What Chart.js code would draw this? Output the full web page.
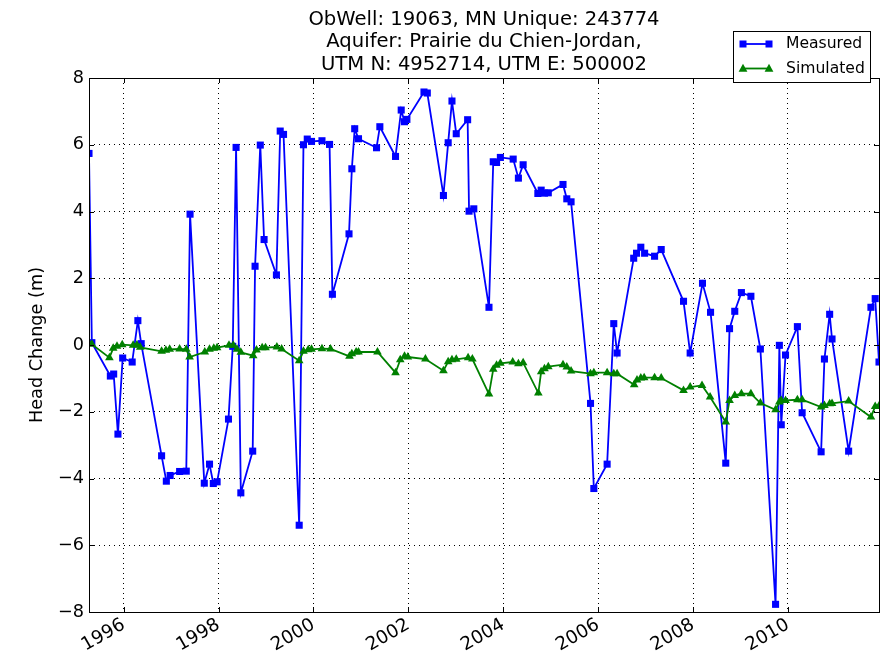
<!DOCTYPE html>
<html>
<head>
<meta charset="utf-8">
<script src="https://cdn.jsdelivr.net/npm/chart.js@4/dist/chart.umd.min.js"></script>
<style>
  html, body { margin: 0; padding: 0; background: #ffffff; overflow: hidden; }
  #wrap { width: 880px; height: 658px; }
</style>
</head>
<body>
<div id="wrap"><canvas id="c" width="880" height="658"></canvas></div>
<script>
// ---- data ----
const titleLines = ["ObWell: 19063, MN Unique: 243774", "Aquifer: Prairie du Chien-Jordan,", "UTM N: 4952714, UTM E: 500002"];
const yAxisLabel = "Head Change (m)";
const seriesNames = ["Measured", "Simulated"];
const xTickYears = [1996, 1998, 2000, 2002, 2004, 2006, 2008, 2010];
const yTickValues = [-8, -6, -4, -2, 0, 2, 4, 6, 8];

const measuredYear = [1995.27, 1995.33, 1995.72, 1995.79, 1995.88, 1995.98, 1996.18, 1996.30, 1996.37, 1996.80, 1996.90, 1996.98, 1997.18, 1997.32, 1997.40, 1997.70, 1997.81, 1997.89, 1997.97, 1998.21, 1998.30, 1998.37, 1998.47, 1998.72, 1998.77, 1998.88, 1998.96, 1999.22, 1999.30, 1999.37, 1999.70, 1999.79, 1999.87, 1999.96, 2000.18, 2000.34, 2000.40, 2000.75, 2000.81, 2000.87, 2000.95, 2001.33, 2001.40, 2001.73, 2001.85, 2001.92, 2001.97, 2002.33, 2002.40, 2002.74, 2002.84, 2002.92, 2003.01, 2003.25, 2003.28, 2003.38, 2003.70, 2003.79, 2003.86, 2003.94, 2004.21, 2004.32, 2004.42, 2004.73, 2004.80, 2004.87, 2004.95, 2005.26, 2005.34, 2005.43, 2005.84, 2005.91, 2006.19, 2006.33, 2006.40, 2006.75, 2006.81, 2006.90, 2006.98, 2007.19, 2007.33, 2007.80, 2007.94, 2008.20, 2008.37, 2008.69, 2008.77, 2008.88, 2009.02, 2009.22, 2009.42, 2009.74, 2009.82, 2009.86, 2009.95, 2010.20, 2010.30, 2010.70, 2010.77, 2010.88, 2010.93, 2011.28, 2011.75, 2011.84, 2011.92];
const measuredHead = [5.74, 0.07, -0.93, -0.87, -2.67, -0.39, -0.51, 0.73, 0.04, -3.32, -4.08, -3.91, -3.79, -3.78, 3.92, -4.14, -3.57, -4.15, -4.10, -2.22, -0.04, 5.92, -4.43, -3.18, 2.36, 5.99, 3.16, 2.10, 6.41, 6.31, -5.40, 6.00, 6.17, 6.10, 6.12, 6.01, 1.52, 3.33, 5.28, 6.48, 6.18, 5.91, 6.54, 5.65, 7.04, 6.69, 6.76, 7.58, 7.55, 4.48, 6.06, 7.31, 6.33, 6.75, 4.01, 4.08, 1.13, 5.49, 5.47, 5.62, 5.57, 5.00, 5.40, 4.54, 4.64, 4.55, 4.56, 4.81, 4.38, 4.29, -1.75, -4.30, -3.57, 0.64, -0.24, 2.60, 2.75, 2.93, 2.75, 2.66, 2.86, 1.31, -0.24, 1.85, 0.98, -3.54, 0.49, 1.01, 1.57, 1.46, -0.12, -7.77, -0.01, -2.39, -0.30, 0.55, -2.03, -3.20, -0.42, 0.92, 0.18, -3.18, 1.13, 1.39, -0.51];

const simulatedYear = [1995.27, 1995.33, 1995.70, 1995.78, 1995.86, 1995.97, 1996.20, 1996.28, 1996.35, 1996.80, 1996.89, 1996.97, 1997.18, 1997.32, 1997.39, 1997.71, 1997.81, 1997.90, 1997.97, 1998.22, 1998.31, 1998.39, 1998.47, 1998.73, 1998.80, 1998.92, 1998.99, 1999.23, 1999.33, 1999.70, 1999.79, 1999.89, 1999.96, 2000.18, 2000.36, 2000.76, 2000.81, 2000.90, 2000.95, 2001.35, 2001.73, 2001.83, 2001.92, 2001.99, 2002.36, 2002.74, 2002.84, 2002.92, 2003.01, 2003.26, 2003.35, 2003.70, 2003.79, 2003.86, 2003.94, 2004.20, 2004.32, 2004.42, 2004.74, 2004.80, 2004.87, 2004.95, 2005.26, 2005.34, 2005.43, 2005.84, 2005.91, 2006.19, 2006.33, 2006.40, 2006.76, 2006.82, 2006.90, 2006.97, 2007.19, 2007.33, 2007.80, 2007.94, 2008.19, 2008.36, 2008.69, 2008.77, 2008.88, 2009.02, 2009.22, 2009.42, 2009.74, 2009.82, 2009.86, 2009.95, 2010.20, 2010.30, 2010.70, 2010.77, 2010.88, 2010.93, 2011.28, 2011.75, 2011.84, 2011.92];
const simulatedHead = [0.05, 0.02, -0.38, -0.10, -0.04, 0.01, -0.01, 0.00, -0.07, -0.19, -0.16, -0.13, -0.12, -0.13, -0.36, -0.21, -0.13, -0.10, -0.08, -0.01, -0.01, -0.13, -0.22, -0.32, -0.15, -0.08, -0.08, -0.06, -0.12, -0.47, -0.19, -0.14, -0.13, -0.11, -0.12, -0.34, -0.26, -0.21, -0.21, -0.21, -0.83, -0.44, -0.34, -0.36, -0.42, -0.77, -0.50, -0.44, -0.43, -0.38, -0.42, -1.47, -0.73, -0.61, -0.55, -0.51, -0.56, -0.53, -1.44, -0.80, -0.71, -0.65, -0.59, -0.66, -0.78, -0.86, -0.83, -0.83, -0.86, -0.86, -1.19, -1.05, -0.99, -0.98, -0.98, -0.99, -1.36, -1.26, -1.21, -1.56, -2.31, -1.66, -1.51, -1.46, -1.46, -1.74, -1.94, -1.71, -1.66, -1.66, -1.64, -1.64, -1.86, -1.81, -1.76, -1.75, -1.68, -2.16, -1.84, -1.83];

// ---- styling ----
const FONT = "'DejaVu Sans', 'Liberation Sans', sans-serif";
const BLUE = "#0000ff";
const GREEN = "#008000";

const toPoints = (xs, ys) => xs.map((x, i) => ({ x: x, y: ys[i] }));
const xMin = measuredYear[0];
const xMax = measuredYear[measuredYear.length - 1];

// plugin: white background, frame, inward tick marks, title, legend
const decor = {
  id: 'decor',
  beforeDraw(chart) {
    const ctx = chart.ctx;
    ctx.save();
    ctx.fillStyle = '#ffffff';
    ctx.fillRect(0, 0, chart.width, chart.height);
    ctx.restore();
  },
  afterDraw(chart) {
    const ctx = chart.ctx;
    const a = chart.chartArea;
    const xs = chart.scales.x, ys = chart.scales.y;
    ctx.save();
    // inward tick marks
    ctx.strokeStyle = '#000000';
    ctx.lineWidth = 1;
    ctx.beginPath();
    xTickYears.forEach(v => {
      const px = Math.round(xs.getPixelForValue(v)) + 0.5;
      ctx.moveTo(px, a.bottom); ctx.lineTo(px, a.bottom - 5);
      ctx.moveTo(px, a.top); ctx.lineTo(px, a.top + 5);
    });
    yTickValues.forEach(v => {
      const py = Math.round(ys.getPixelForValue(v)) + 0.5;
      ctx.moveTo(a.left, py); ctx.lineTo(a.left + 5, py);
      ctx.moveTo(a.right, py); ctx.lineTo(a.right - 5, py);
    });
    ctx.stroke();
    // frame
    ctx.strokeRect(Math.round(a.left) + 0.5, Math.round(a.top) + 0.5, Math.round(a.right - a.left), Math.round(a.bottom - a.top));

    // title
    ctx.fillStyle = '#000000';
    ctx.font = "19.6px " + FONT;
    ctx.textAlign = 'center';
    ctx.textBaseline = 'middle';
    const cx = (a.left + a.right) / 2;
    titleLines.forEach((t, i) => ctx.fillText(t, cx, 20 + i * 22.3));

    // legend
    const lx = 733.5, ly = 31.5, lw = 137, lh = 51;
    ctx.fillStyle = '#ffffff';
    ctx.fillRect(lx, ly, lw, lh);
    ctx.strokeStyle = '#000000';
    ctx.lineWidth = 1;
    ctx.strokeRect(lx, ly, lw, lh);
    const rows = [
      { name: seriesNames[0], color: BLUE, shape: 'rect', y: 44 },
      { name: seriesNames[1], color: GREEN, shape: 'tri', y: 68.5 }
    ];
    rows.forEach(r => {
      ctx.strokeStyle = r.color;
      ctx.lineWidth = 1.8;
      ctx.beginPath();
      ctx.moveTo(743, r.y); ctx.lineTo(769, r.y);
      ctx.stroke();
      ctx.fillStyle = r.color;
      [743, 769].forEach(px => {
        if (r.shape === 'rect') {
          ctx.fillRect(px - 3.5, r.y - 3.5, 7, 7);
        } else {
          ctx.beginPath();
          ctx.moveTo(px, r.y - 4.8);
          ctx.lineTo(px + 4.4, r.y + 3.2);
          ctx.lineTo(px - 4.4, r.y + 3.2);
          ctx.closePath();
          ctx.fill();
        }
      });
      ctx.fillStyle = '#000000';
      ctx.font = "15.6px " + FONT;
      ctx.textAlign = 'left';
      ctx.textBaseline = 'middle';
      ctx.fillText(r.name, 786, r.y);
    });
    ctx.restore();
  }
};

const chart = new Chart(document.getElementById('c'), {
  type: 'line',
  data: {
    datasets: [
      {
        label: seriesNames[0],
        data: toPoints(measuredYear, measuredHead),
        borderColor: BLUE,
        backgroundColor: BLUE,
        borderWidth: 1.8,
        pointStyle: 'rect',
        pointRadius: 5,
        pointBorderWidth: 0,
        pointBackgroundColor: BLUE,
        tension: 0,
        order: 1
      },
      {
        label: seriesNames[1],
        data: toPoints(simulatedYear, simulatedHead),
        borderColor: GREEN,
        backgroundColor: GREEN,
        borderWidth: 1.8,
        pointStyle: 'triangle',
        pointRadius: 5,
        pointBorderWidth: 0,
        pointBackgroundColor: GREEN,
        tension: 0,
        order: 0
      }
    ]
  },
  options: {
    responsive: false,
    animation: false,
    events: [],
    layout: { autoPadding: false, padding: { top: 78, right: 1, left: 0, bottom: 0 } },
    plugins: { legend: { display: false }, title: { display: false }, tooltip: { enabled: false } },
    scales: {
      x: {
        type: 'linear',
        min: xMin,
        max: xMax,
        afterBuildTicks(scale) { scale.ticks = xTickYears.map(v => ({ value: v })); },
        afterFit(scale) { scale.height = 46; scale.paddingLeft = 0; scale.paddingRight = 0; },
        ticks: {
          autoSkip: false,
          maxRotation: 30,
          minRotation: 30,
          padding: 2,
          color: '#000000',
          font: { family: FONT, size: 18.4 },
          callback: v => String(v)
        },
        grid: { color: '#000000', lineWidth: 1, drawTicks: false },
        border: { display: false, dash: [1, 4] }
      },
      y: {
        type: 'linear',
        min: -8,
        max: 8,
        afterBuildTicks(scale) { scale.ticks = yTickValues.map(v => ({ value: v })); },
        afterFit(scale) { scale.width = 89; scale.paddingTop = 0; scale.paddingBottom = 0; },
        ticks: {
          padding: 5,
          color: '#000000',
          font: { family: FONT, size: 17.7 },
          callback: v => (v < 0 ? '\u2212' + Math.abs(v) : String(v))
        },
        grid: { color: '#000000', lineWidth: 1, drawTicks: false },
        border: { display: false, dash: [1, 4] },
        title: {
          display: true,
          text: yAxisLabel,
          color: '#000000',
          font: { family: FONT, size: 17.7 },
          padding: { top: 27, bottom: 0 }
        }
      }
    }
  },
  plugins: [decor]
});
</script>
</body>
</html>
